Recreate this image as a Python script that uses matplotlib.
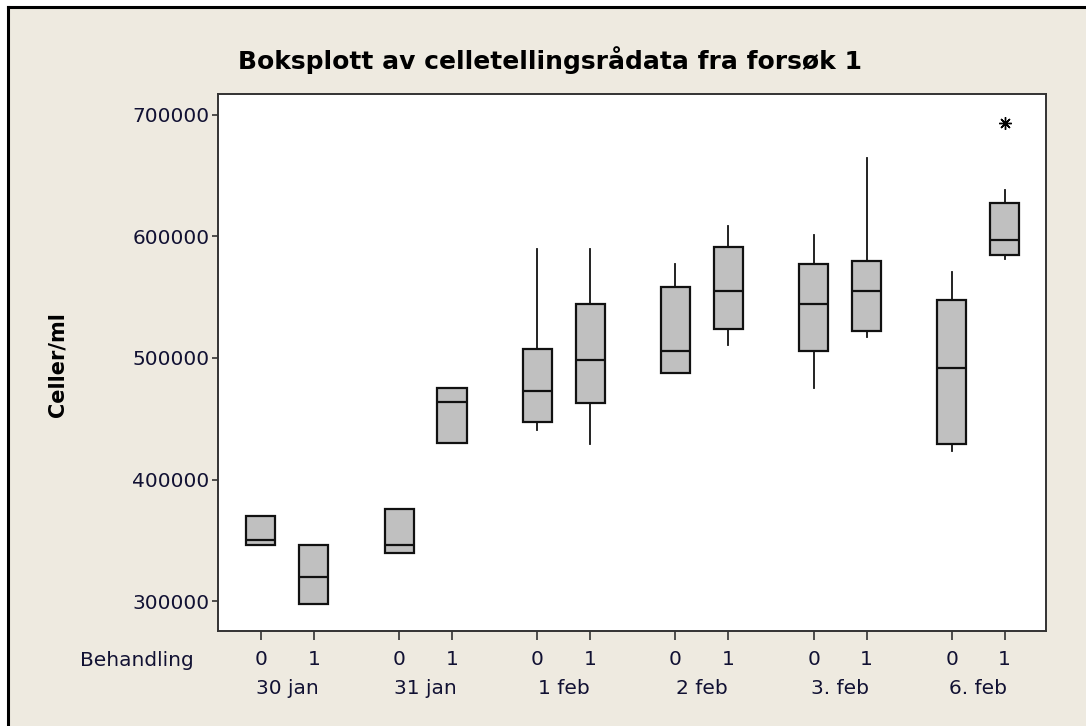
import matplotlib
matplotlib.use("Agg")
import matplotlib.pyplot as plt
from matplotlib.lines import Line2D
from matplotlib.patches import Rectangle

# Data (cells/ml)
dates = ["30 jan", "31 jan", "1 feb", "2 feb", "3. feb", "6. feb"]
treatments = ["0", "1"]
whislo = [346000, 298000, 340000, 430000, 440500, 429000,
          488000, 511000, 475000, 517000, 423500, 581000]
q1 = [346000, 298000, 340000, 430000, 447500, 463000,
      488000, 524000, 505500, 522500, 429000, 585000]
med = [350000, 320000, 346500, 463500, 472500, 498000,
       505500, 555000, 544500, 555000, 491500, 597000]
q3 = [370000, 346500, 376000, 475500, 507000, 544500,
      558500, 591000, 577000, 580000, 547500, 627000]
whishi = [370000, 346500, 376000, 475500, 590000, 590000,
          577500, 608500, 601000, 664500, 571000, 638500]
outliers = [[], [], [], [], [], [], [], [], [], [], [], [693500]]

group_step = 2.61  # distance between date groups (pair spacing = 1)
text_col = "#111133"

W, H = 1086, 726
fig = plt.figure(figsize=(W / 100, H / 100), dpi=100, facecolor="white")

# beige window background with black frame on top/left
fig.patches.append(Rectangle((8 / W, 0), 1, 1 - 7 / H, transform=fig.transFigure,
                             facecolor="#EEEAE0", edgecolor="none", zorder=-5))
fig.lines.append(Line2D([8 / W, 1], [1 - 7 / H, 1 - 7 / H], transform=fig.transFigure,
                        color="black", lw=2.2, zorder=-4))
fig.lines.append(Line2D([8 / W, 8 / W], [0, 1 - 7 / H], transform=fig.transFigure,
                        color="black", lw=2.2, zorder=-4))

ax = fig.add_axes([218 / W, 1 - 631 / H, (1046 - 218) / W, (631 - 94) / H])
ax.set_facecolor("white")

positions = []
stats = []
for g in range(len(dates)):
    for t in range(len(treatments)):
        i = g * len(treatments) + t
        positions.append(g * group_step + t)
        stats.append(dict(whislo=whislo[i], q1=q1[i], med=med[i], q3=q3[i],
                          whishi=whishi[i], fliers=outliers[i]))

ax.bxp(stats, positions=positions, widths=0.55, patch_artist=True, showcaps=False,
       boxprops=dict(facecolor="#C0C0C0", edgecolor="#111111", linewidth=1.6),
       medianprops=dict(color="#111111", linewidth=1.6),
       whiskerprops=dict(color="#111111", linewidth=1.3),
       flierprops=dict(marker=(8, 2, 0), markersize=9, markeredgecolor="black",
                       markeredgewidth=1.0))

ax.set_xlim(-0.81, positions[-1] + 0.78)
ax.set_ylim(275600, 717000)
ax.set_yticks([300000, 400000, 500000, 600000, 700000])
ax.set_yticklabels(["300000", "400000", "500000", "600000", "700000"])
ax.set_xticks(positions)
ax.set_xticklabels(treatments * len(dates))

for s in ax.spines.values():
    s.set_color("#333333")
    s.set_linewidth(1.4)
ax.tick_params(axis="both", direction="out", width=1.2, color="#333333",
               labelsize=14.5, labelcolor=text_col)
ax.tick_params(axis="y", length=4.5, pad=1.5)
ax.tick_params(axis="x", length=6.5, pad=7)

# date labels under each pair
for g, d in enumerate(dates):
    ax.text(g * group_step + 0.5, -0.108, d, transform=ax.get_xaxis_transform(),
            ha="center", va="center", fontsize=14.5, color=text_col)

fig.text(194 / W, 1 - 660 / H, "Behandling", ha="right", va="center",
         fontsize=14.5, color=text_col)
fig.text(57 / W, 1 - 365 / H, "Celler/ml", rotation=90, ha="center", va="center",
         fontsize=15, fontweight="bold", color="black")
fig.text(550 / W, 1 - 60 / H, "Boksplott av celletellingsrådata fra forsøk 1",
         ha="center", va="center", fontsize=18, fontweight="bold", color="black")

fig.savefig("out.png", dpi=100, facecolor=fig.get_facecolor())
